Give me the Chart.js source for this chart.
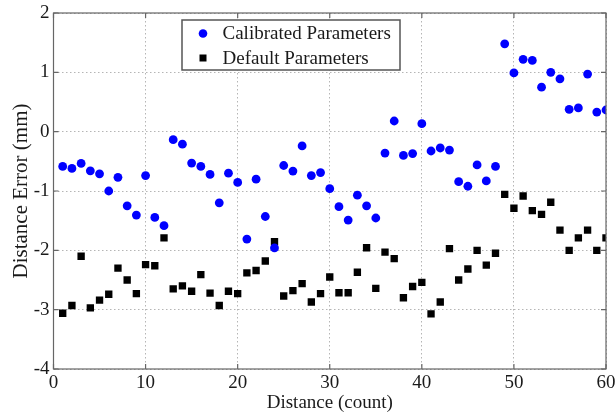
<!DOCTYPE html>
<html><head><meta charset="utf-8">
<script src="https://cdn.jsdelivr.net/npm/chart.js@4/dist/chart.umd.min.js"></script>
<style>html,body{margin:0;padding:0;background:#fff}#wrap{width:615px;height:414px}</style>
</head><body><div id="wrap"><canvas id="c"></canvas></div>
<script>
const distances = [1,2,3,4,5,6,7,8,9,10,11,12,13,14,15,16,17,18,19,20,21,22,23,24,25,26,27,28,29,30,31,32,33,34,35,36,37,38,39,40,41,42,43,44,45,46,47,48,49,50,51,52,53,54,55,56,57,58,59,60];
const calibrated = [-0.585,-0.62,-0.535,-0.66,-0.71,-1.0,-0.77,-1.25,-1.405,-0.74,-1.445,-1.585,-0.135,-0.21,-0.53,-0.585,-0.72,-1.2,-0.70,-0.855,
  -1.81,-0.80,-1.43,-1.96,-0.57,-0.665,-0.24,-0.74,-0.69,-0.96,-1.265,-1.49,-1.07,-1.25,-1.455,-0.36,0.18,-0.40,-0.37,0.135,
  -0.326,-0.275,-0.31,-0.843,-0.92,-0.56,-0.83,-0.585,1.48,0.99,1.22,1.20,0.75,1.0,0.89,0.376,0.40,0.97,0.33,0.365];
const defaults = [-3.06,-2.93,-2.10,-2.97,-2.84,-2.74,-2.30,-2.50,-2.73,-2.24,-2.26,-1.79,-2.65,-2.60,-2.69,-2.41,-2.72,-2.93,-2.69,-2.73,
  -2.38,-2.34,-2.18,-1.855,-2.77,-2.68,-2.56,-2.87,-2.73,-2.45,-2.715,-2.715,-2.37,-1.956,-2.64,-2.03,-2.14,-2.80,-2.61,-2.54,
  -3.07,-2.87,-1.97,-2.50,-2.315,-2.0,-2.25,-2.05,-1.057,-1.29,-1.085,-1.33,-1.395,-1.19,-1.66,-2.0,-1.79,-1.66,-2.0,-1.79];
const seriesLabels = ['Calibrated Parameters','Default Parameters'];
const xTicks = [0,10,20,30,40,50,60];
const yTicks = [-4,-3,-2,-1,0,1,2];
const xTitle = 'Distance (count)';
const yTitle = 'Distance Error (mm)';

const FONT = "'Liberation Serif','Times New Roman',serif";

const frame = {
  id:'frame',
  afterDatasetsDraw(chart){
    const {ctx, chartArea:a, scales} = chart;
    ctx.save();
    ctx.strokeStyle = '#666'; ctx.lineWidth = 1.2;
    ctx.strokeRect(a.left, a.top, a.right-a.left, a.bottom-a.top);
    ctx.beginPath();
    const L = 5;
    scales.x.ticks.forEach(t=>{const px=scales.x.getPixelForValue(t.value);
      ctx.moveTo(px,a.bottom);ctx.lineTo(px,a.bottom-L);ctx.moveTo(px,a.top);ctx.lineTo(px,a.top+L);});
    scales.y.ticks.forEach(t=>{const py=scales.y.getPixelForValue(t.value);
      ctx.moveTo(a.left,py);ctx.lineTo(a.left+L,py);ctx.moveTo(a.right,py);ctx.lineTo(a.right-L,py);});
    ctx.stroke();
    // legend
    const lx = a.left+128.5, ly = a.top+7, lw = 218, lh = 50;
    ctx.fillStyle='#fff'; ctx.fillRect(lx,ly,lw,lh);
    ctx.strokeStyle='#555'; ctx.lineWidth=1.5; ctx.strokeRect(lx,ly,lw,lh);
    ctx.font = '19px '+FONT; ctx.textBaseline='middle'; ctx.textAlign='left';
    chart.data.datasets.forEach((ds,i)=>{
      const cy = ly+13.5+i*24.5, cx = lx+21;
      ctx.fillStyle = ds.backgroundColor;
      if(ds.pointStyle==='rect'){ctx.fillRect(cx-3.5,cy-3.5,7,7);}
      else {ctx.beginPath();ctx.arc(cx,cy,4.3,0,Math.PI*2);ctx.fill();}
      ctx.fillStyle='#1a1a1a';
      ctx.fillText(ds.label, lx+40.5, cy+1);
    });
    ctx.restore();
  }
};

new Chart(document.getElementById('c'), {
  type:'scatter',
  data:{datasets:[
    {label:seriesLabels[0], data:distances.map((x,i)=>({x, y:calibrated[i]})), backgroundColor:'#0000ff', borderColor:'#0000ff', pointStyle:'circle', pointRadius:4.4, borderWidth:0},
    {label:seriesLabels[1], data:distances.map((x,i)=>({x, y:defaults[i]})), backgroundColor:'#000000', borderColor:'#000000', pointStyle:'rect', pointRadius:5.2, borderWidth:0}
  ]},
  options:{
    responsive:true, maintainAspectRatio:false, animation:false,
    layout:{padding:{top:13,right:9,left:0,bottom:0}},
    plugins:{legend:{display:false}, tooltip:{enabled:false}},
    scales:{
      x:{type:'linear', min:0, max:60,
        afterBuildTicks(s){s.ticks = xTicks.map(v=>({value:v}));},
        afterFit(s){s.height=45; s.paddingLeft=0; s.paddingRight=0;},
        grid:{color:'#b5b5b5', lineWidth:1, drawTicks:false},
        border:{display:false, dash:[1.5,2.5]},
        ticks:{font:{family:FONT,size:19}, color:'#1a1a1a', padding:3, maxRotation:0},
        title:{display:true, text:xTitle, font:{family:FONT,size:19}, color:'#1a1a1a', padding:{top:0,bottom:0}}
      },
      y:{type:'linear', min:-4, max:2,
        afterBuildTicks(s){s.ticks = yTicks.map(v=>({value:v}));},
        afterFit(s){s.width=53.5; s.paddingTop=0; s.paddingBottom=0;},
        grid:{color:'#b5b5b5', lineWidth:1, drawTicks:false},
        border:{display:false, dash:[1.5,2.5]},
        ticks:{font:{family:FONT,size:19}, color:'#1a1a1a', padding:4},
        title:{display:true, text:yTitle, font:{family:FONT,size:21}, color:'#1a1a1a', padding:{top:9,bottom:0}}
      }
    }
  },
  plugins:[frame]
});
</script></body></html>
